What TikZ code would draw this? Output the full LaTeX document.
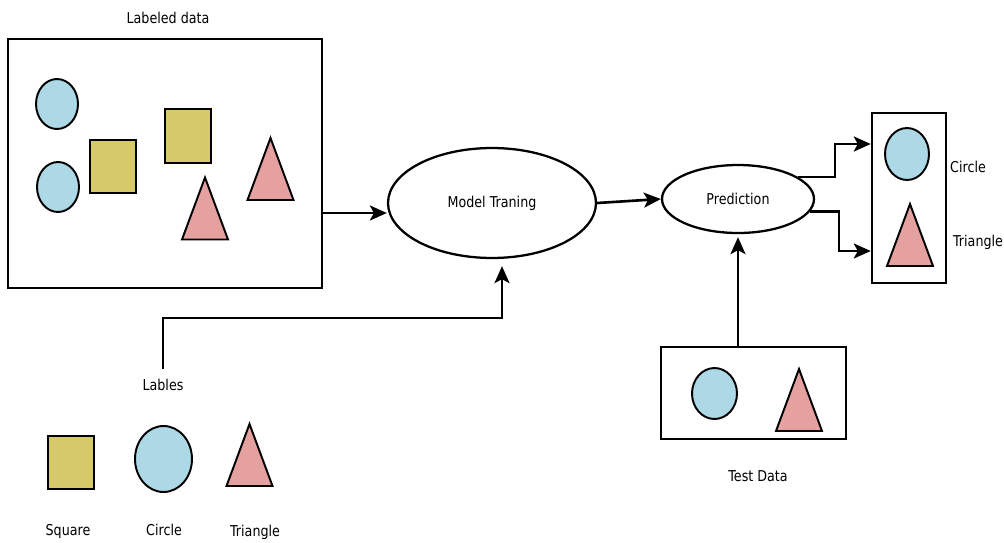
\documentclass[tikz,border=0pt]{standalone}
\usepackage{fontspec}
\setmainfont{DejaVu Sans}[FakeStretch=0.85]
\usetikzlibrary{arrows.meta,shapes.geometric}
\definecolor{cblue}{HTML}{ADD8E6}
\definecolor{cyel}{HTML}{D5C96A}
\definecolor{cpink}{HTML}{E5A0A0}
\begin{document}
\begin{tikzpicture}[x=0.02cm,y=-0.02cm,
  every node/.style={font=\fontsize{8.5}{10}\selectfont, inner sep=0pt},
  outline/.style={draw=black, line width=1.1pt},
  blob/.style={outline, ellipse, fill=cblue, minimum width=0.84cm, minimum height=1.0cm},
  sqr/.style={outline, rectangle, fill=cyel, minimum width=0.92cm, minimum height=1.06cm},
  box/.style={draw=black, line width=1.4pt, rectangle},
  oval/.style={draw=black, line width=1.3pt, ellipse},
  arr/.style={line width=1.5pt, -{Stealth[length=0.34cm,width=0.3cm,inset=0.08cm]}},
  tri/.pic={\draw[outline, fill=cpink, line join=miter] (-23,31) -- (0,-31) -- (23,31) -- cycle;}
]
\useasboundingbox (0,0) rectangle (1004,542);

% Labeled data box
\node (ldt) at (168,18) {Labeled data};
\node[box, minimum width=6.28cm, minimum height=4.98cm] (ld) at (165,163.5) {};
\node[blob] (c1) at (57,104) {};
\node[blob] (c2) at (58,187) {};
\node[sqr] (s1) at (113,166.5) {};
\node[sqr, minimum height=1.08cm] (s2) at (188,136) {};
\pic (t1) at (205,208.5) {tri};
\pic (t2) at (270.5,169) {tri};

% Model training and prediction
\node[oval, minimum width=4.16cm, minimum height=2.2cm] (mt) at (492,203) {Model Traning};
\node[oval, minimum width=3.04cm, minimum height=1.36cm] (pr) at (738,199) {Prediction};

% Output box
\node[box, minimum width=1.48cm, minimum height=3.4cm] (out) at (909,198) {};
\node[blob, minimum width=0.88cm, minimum height=1.04cm] (oc) at (907,154) {};
\pic (ot) at (910,235) {tri};
\node (ocl) at (968,167) {Circle};
\node (otl) at (978,242) {Triangle};

% Test data box
\node[box, minimum width=3.7cm, minimum height=1.84cm] (tb) at (753.5,393) {};
\node[blob, minimum width=0.9cm, minimum height=1.02cm] (tc) at (714.5,393.5) {};
\pic (tt) at (799,400) {tri};
\node (tdl) at (758,476) {Test Data};

% Legend
\node (lab) at (163,385) {Lables};
\node[sqr] (ls) at (71,462.5) {};
\node[blob, minimum width=1.14cm, minimum height=1.32cm] (lc) at (163.5,459) {};
\pic (lt) at (249.5,455) {tri};
\node (lsl) at (68,531) {Square};
\node (lcl) at (164,530) {Circle};
\node (ltl) at (255,532) {Triangle};

% Connectors
\coordinate (a1) at (0,213);
\draw[arr] (ld.east |- a1) -- (mt.west |- a1);
\draw[arr] (mt.east) -- (pr.west);
\coordinate (u) at (835,144);
\draw[arr] (pr.20) -| (u) -- (out.west |- u);
\coordinate (d) at (839,251);
\draw[arr] (pr.-10) -| (d) -- (out.west |- d);
\draw[arr, shorten >=0.06cm] (pr.south |- tb.north) -- (pr.south);
\coordinate (lk) at (502,318);
\draw[arr, shorten >=0.14cm, shorten <=0.2cm] (lab.north) |- (lk) -- (lk |- mt.south);
\end{tikzpicture}
\end{document}
